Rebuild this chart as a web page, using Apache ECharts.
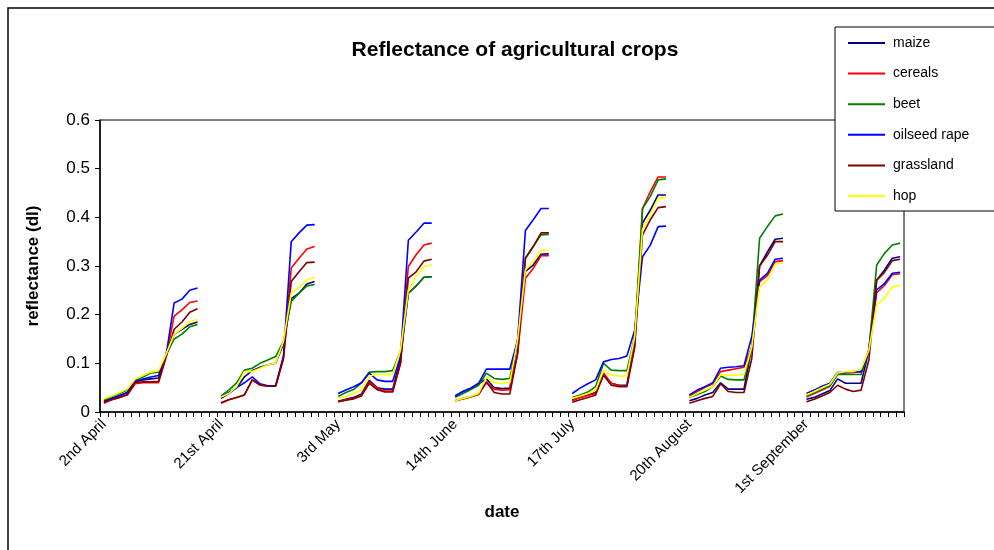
<!DOCTYPE html>
<html>
<head>
<meta charset="utf-8">
<title>Reflectance of agricultural crops</title>
<script src="https://cdn.jsdelivr.net/npm/echarts@6/dist/echarts.min.js"></script>
<style>
  html, body { margin: 0; padding: 0; background: #fff; }
  #main { width: 994px; height: 550px; }
</style>
</head>
<body>
<div id="main"></div>
<script>
// dates of the 7 acquisitions, 13 spectral bands each
var dates = ['2nd April', '21st April', '3rd May', '14th June', '17th July', '20th August', '1st September'];
var bandsPerDate = 13;
var gapAfter = 2;

var maize = [
  [0.022,0.028,0.034,0.040,0.062,0.066,0.068,0.070,0.120,0.160,0.170,0.180,0.185],
  [0.028,0.038,0.050,0.072,0.085,0.092,0.097,0.100,0.140,0.233,0.244,0.263,0.268],
  [0.022,0.026,0.030,0.037,0.065,0.050,0.047,0.047,0.110,0.244,0.259,0.277,0.278],
  [0.033,0.042,0.049,0.058,0.068,0.050,0.048,0.049,0.145,0.289,0.302,0.324,0.325],
  [0.025,0.030,0.035,0.040,0.076,0.059,0.055,0.055,0.155,0.388,0.415,0.446,0.446],
  [0.023,0.028,0.035,0.040,0.060,0.047,0.047,0.047,0.134,0.300,0.329,0.355,0.357],
  [0.026,0.030,0.037,0.044,0.068,0.059,0.059,0.059,0.127,0.271,0.292,0.316,0.319]
];
var cereals = [
  [0.018,0.025,0.030,0.035,0.058,0.060,0.060,0.060,0.115,0.197,0.210,0.225,0.228],
  [0.018,0.025,0.030,0.035,0.066,0.055,0.053,0.053,0.110,0.296,0.316,0.335,0.340],
  [0.021,0.025,0.028,0.035,0.062,0.049,0.043,0.043,0.100,0.299,0.323,0.343,0.347],
  [0.023,0.028,0.032,0.037,0.060,0.047,0.045,0.046,0.120,0.275,0.295,0.321,0.321],
  [0.023,0.030,0.034,0.038,0.080,0.059,0.054,0.053,0.134,0.418,0.453,0.483,0.483],
  [0.032,0.042,0.051,0.058,0.083,0.086,0.089,0.092,0.134,0.268,0.280,0.309,0.311],
  [0.031,0.038,0.045,0.053,0.079,0.080,0.081,0.083,0.127,0.245,0.260,0.282,0.284]
];
var beet = [
  [0.025,0.032,0.038,0.045,0.065,0.072,0.080,0.082,0.118,0.150,0.160,0.175,0.180],
  [0.033,0.045,0.060,0.086,0.090,0.100,0.107,0.114,0.145,0.227,0.244,0.259,0.262],
  [0.032,0.040,0.046,0.060,0.082,0.083,0.083,0.085,0.125,0.244,0.259,0.277,0.278],
  [0.030,0.038,0.046,0.055,0.080,0.069,0.067,0.069,0.148,0.316,0.340,0.364,0.365],
  [0.030,0.035,0.041,0.052,0.100,0.086,0.085,0.085,0.155,0.418,0.443,0.477,0.479],
  [0.030,0.036,0.042,0.052,0.074,0.067,0.066,0.066,0.134,0.357,0.381,0.403,0.407],
  [0.033,0.040,0.047,0.054,0.077,0.077,0.077,0.077,0.127,0.302,0.326,0.343,0.347]
];
var oilseedRape = [
  [0.020,0.027,0.033,0.040,0.063,0.068,0.072,0.075,0.120,0.224,0.232,0.250,0.255],
  [0.031,0.040,0.050,0.060,0.072,0.058,0.054,0.054,0.115,0.350,0.368,0.384,0.385],
  [0.038,0.045,0.052,0.060,0.080,0.066,0.063,0.063,0.114,0.353,0.370,0.388,0.388],
  [0.033,0.042,0.049,0.059,0.088,0.088,0.088,0.088,0.148,0.373,0.395,0.418,0.418],
  [0.038,0.049,0.058,0.066,0.103,0.108,0.110,0.115,0.168,0.319,0.343,0.381,0.382],
  [0.035,0.045,0.052,0.060,0.090,0.092,0.093,0.095,0.155,0.271,0.285,0.314,0.316],
  [0.038,0.045,0.053,0.059,0.081,0.081,0.083,0.083,0.127,0.251,0.264,0.285,0.287]
];
var grassland = [
  [0.020,0.025,0.030,0.036,0.060,0.062,0.062,0.063,0.115,0.170,0.185,0.205,0.212],
  [0.019,0.025,0.030,0.035,0.066,0.056,0.053,0.053,0.110,0.268,0.288,0.307,0.308],
  [0.021,0.024,0.027,0.033,0.059,0.046,0.041,0.041,0.100,0.275,0.288,0.310,0.314],
  [0.023,0.027,0.031,0.036,0.062,0.040,0.037,0.037,0.120,0.316,0.340,0.368,0.368],
  [0.020,0.025,0.030,0.035,0.076,0.055,0.052,0.052,0.134,0.364,0.395,0.420,0.422],
  [0.018,0.023,0.028,0.032,0.058,0.042,0.040,0.040,0.110,0.300,0.322,0.350,0.350],
  [0.021,0.026,0.033,0.040,0.055,0.047,0.042,0.045,0.107,0.271,0.287,0.311,0.314]
];
var hop = [
  [0.027,0.033,0.040,0.047,0.068,0.075,0.082,0.085,0.120,0.160,0.172,0.185,0.190],
  [0.031,0.038,0.052,0.083,0.083,0.090,0.097,0.100,0.145,0.245,0.256,0.271,0.277],
  [0.028,0.032,0.038,0.045,0.074,0.077,0.077,0.077,0.127,0.251,0.279,0.299,0.302],
  [0.023,0.028,0.032,0.038,0.071,0.060,0.059,0.060,0.148,0.292,0.309,0.333,0.333],
  [0.028,0.033,0.038,0.045,0.086,0.076,0.074,0.074,0.155,0.375,0.405,0.439,0.441],
  [0.030,0.038,0.045,0.052,0.077,0.075,0.076,0.077,0.134,0.257,0.271,0.304,0.306],
  [0.035,0.042,0.050,0.057,0.080,0.083,0.083,0.088,0.127,0.220,0.234,0.257,0.261]
];

var crops = [
  { name: 'maize', data: maize, color: '#000080' },
  { name: 'cereals', data: cereals, color: '#ff0000' },
  { name: 'beet', data: beet, color: '#008000' },
  { name: 'oilseed rape', data: oilseedRape, color: '#0000ff' },
  { name: 'grassland', data: grassland, color: '#800000' },
  { name: 'hop', data: hop, color: '#ffff00' }
];

// flat category axis: 13 bands per date, 2 empty slots between dates
var step = bandsPerDate + gapAfter;
var categories = [];
for (var g = 0; g < dates.length; g++) {
  for (var b = 0; b < bandsPerDate; b++) categories.push(String(g * step + b));
  if (g < dates.length - 1) {
    for (var k = 0; k < gapAfter; k++) categories.push(String(g * step + bandsPerDate + k));
  }
}

function flatten(groups) {
  var out = [];
  groups.forEach(function (grp, gi) {
    out = out.concat(grp);
    if (gi < groups.length - 1) {
      for (var k = 0; k < gapAfter; k++) out.push(null);
    }
  });
  return out;
}

var font = 'Arial, Liberation Sans';
var chart = echarts.init(document.getElementById('main'));
chart.setOption({
  animation: false,
  backgroundColor: '#fff',
  title: {
    text: 'Reflectance of agricultural crops',
    left: 510,
    textAlign: 'center',
    top: 35,
    textStyle: { fontFamily: font, fontSize: 21, fontWeight: 'bold', color: '#000' }
  },
  legend: {
    orient: 'vertical',
    left: 835,
    top: 27,
    padding: [8, 40, 7, 13],
    itemGap: 14.6,
    itemWidth: 37,
    itemHeight: 2,
    icon: 'rect',
    backgroundColor: '#fff',
    borderColor: '#000',
    borderWidth: 1,
    textStyle: { fontFamily: font, fontSize: 14, color: '#000', lineHeight: 16, padding: [0, 0, 0, 3] },
    data: crops.map(function (c) { return c.name; })
  },
  grid: {
    left: 100, right: 90, top: 120, bottom: 138,
    show: true, borderColor: '#000', borderWidth: 1, backgroundColor: 'transparent'
  },
  xAxis: {
    type: 'category',
    data: categories,
    boundaryGap: true,
    name: 'date',
    nameLocation: 'middle',
    nameGap: 92,
    nameTextStyle: { fontFamily: font, fontSize: 17, fontWeight: 'bold', color: '#000' },
    axisLine: { lineStyle: { color: '#000', width: 1.5 } },
    axisTick: { show: true, interval: 0, length: 5, lineStyle: { color: '#000' } },
    axisLabel: {
      interval: function (idx) { return idx % step === 0; },
      formatter: function (v, idx) { return dates[Math.floor(idx / step)]; },
      rotate: 45,
      margin: 10,
      fontFamily: font,
      fontSize: 15,
      color: '#000'
    },
    splitLine: { show: false }
  },
  yAxis: {
    type: 'value',
    min: 0, max: 0.6, interval: 0.1,
    name: 'reflectance (dl)',
    nameLocation: 'middle',
    nameGap: 58,
    nameTextStyle: { fontFamily: font, fontSize: 17, fontWeight: 'bold', color: '#000' },
    axisLine: { show: true, lineStyle: { color: '#000', width: 1.5 } },
    axisTick: { show: true, length: 5, lineStyle: { color: '#000' } },
    axisLabel: {
      margin: 10,
      fontFamily: font,
      fontSize: 17,
      color: '#000',
      formatter: function (v) { return String(+v.toFixed(1)); }
    },
    splitLine: { show: false }
  },
  graphic: [{
    type: 'rect',
    shape: { x: 8, y: 8, width: 1000, height: 600 },
    style: { fill: 'none', stroke: '#000', lineWidth: 1.5 },
    silent: true,
    z: -1
  }],
  series: crops.map(function (c) {
    return {
      name: c.name,
      type: 'line',
      data: flatten(c.data),
      color: c.color,
      symbol: 'none',
      connectNulls: false,
      lineStyle: { width: 1.6, color: c.color }
    };
  })
});
</script>
</body>
</html>
